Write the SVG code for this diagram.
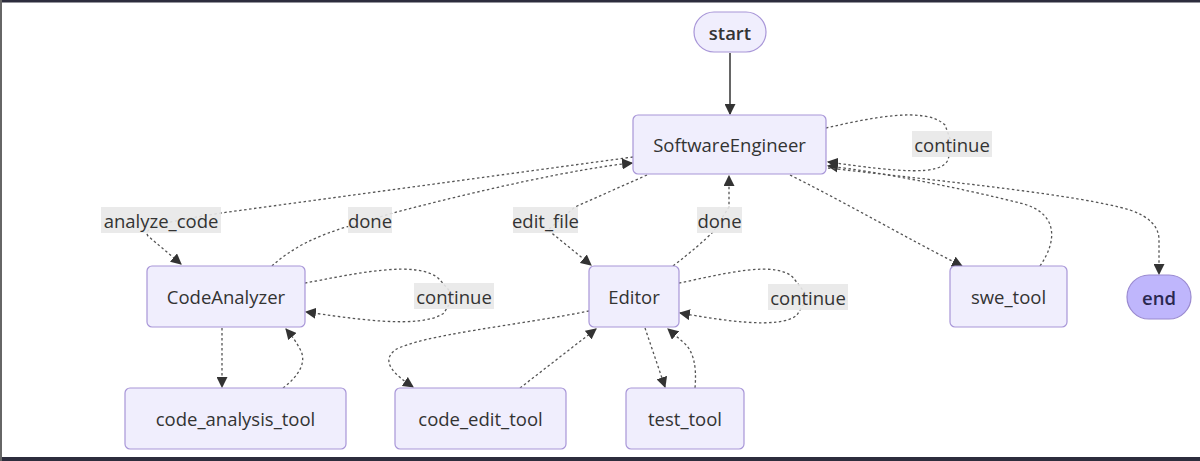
<svg xmlns="http://www.w3.org/2000/svg" width="1200" height="461" viewBox="0 0 1200 461">
<defs>
<marker id="arr" viewBox="0 0 10 10" refX="9" refY="5" markerWidth="11" markerHeight="11" markerUnits="userSpaceOnUse" orient="auto">
<path d="M0,0 L10,5 L0,10 z" fill="#333"/>
</marker>
<style>
.node rect{fill:#f0eefd;stroke:#a896d8;stroke-width:1.2}
.node text, .lbl text{font-family:"Open Sans","DejaVu Sans",sans-serif;font-size:18.5px;fill:#333;text-anchor:middle;dominant-baseline:central}
.e{fill:none;stroke:#555;stroke-width:1.3;stroke-dasharray:2.5,2.5;marker-end:url(#arr)}
.s{fill:none;stroke:#333;stroke-width:1.5;marker-end:url(#arr)}
.lbl rect{fill:#e8e8e8;opacity:0.9}
.term text{font-weight:600}
</style>
</defs>
<rect x="0" y="0" width="1200" height="461" fill="#fff"/>
<rect x="0" y="0" width="1200" height="2.5" fill="#2d2d3d"/>
<rect x="0" y="457" width="1200" height="4" fill="#2d2d3d"/>
<rect x="0" y="0" width="2" height="461" fill="#666"/>
<g id="edges">
<path class="s" d="M730,53 L730,114"/>
<path class="e" d="M633,157 L221,213 C180,220 140,225 148,236 L181,264"/>
<path class="e" d="M272,266 Q300,240 350,226 L393,213 C480,190 580,168 632,163"/>
<path class="e" d="M647,175 L575,207 L548,230 L591,265"/>
<path class="e" d="M673,266 Q700,245 713,232 L729,207 L729,176"/>
<path class="e" d="M790,175 C850,205 910,240 962,266"/>
<path class="e" d="M1040,266 C1058,240 1058,212 1020,203 C960,188 880,172 828,166"/>
<path class="e" d="M828,168 C950,182 1080,195 1130,210 Q1159,220 1159,240 L1159,274"/>
<path class="e" d="M826,128 C870,118 925,106 945,125 L952,144 L948,160 C940,176 900,172 828,162"/>
<path class="e" d="M305,283 C350,275 420,258 440,280 L454,296 L444,313 C420,330 350,318 306,312"/>
<path class="e" d="M222,328 L222,387"/>
<path class="e" d="M283,388 C300,375 306,362 301,351 C297,343 292,336 286,329"/>
<path class="e" d="M679,283 C720,275 780,258 795,280 L808,297 L797,315 C780,330 720,320 680,313"/>
<path class="e" d="M589,311 C520,325 420,335 395,350 C380,362 395,375 413,387"/>
<path class="e" d="M520,388 L596,329"/>
<path class="e" d="M645,328 L665,387"/>
<path class="e" d="M695,388 C697,365 693,350 683,342 L668,329"/>
</g>
<g id="labels">
<g class="lbl"><rect x="912" y="131" width="80" height="26"/><text x="952" y="144">continue</text></g>
<g class="lbl"><rect x="101" y="207" width="120" height="26"/><text x="161" y="220">analyze_code</text></g>
<g class="lbl"><rect x="348" y="207" width="44" height="26"/><text x="370" y="220">done</text></g>
<g class="lbl"><rect x="513" y="207" width="65" height="26"/><text x="545.5" y="220">edit_file</text></g>
<g class="lbl"><rect x="697" y="207" width="45" height="26"/><text x="719.5" y="220">done</text></g>
<g class="lbl"><rect x="414" y="283" width="80" height="26"/><text x="454" y="296">continue</text></g>
<g class="lbl"><rect x="768" y="284" width="80" height="26"/><text x="808" y="297">continue</text></g>
</g>
<g id="start" class="node term"><rect x="694" y="12" width="72" height="40" rx="20"/><text x="730" y="32">start</text></g>
<g id="SoftwareEngineer" class="node"><rect x="633" y="115" width="193" height="59" rx="5"/><text x="729.5" y="144.5">SoftwareEngineer</text></g>
<g id="CodeAnalyzer" class="node"><rect x="147" y="266" width="158" height="61" rx="5"/><text x="226" y="296.5">CodeAnalyzer</text></g>
<g id="Editor" class="node"><rect x="589" y="266" width="90" height="61" rx="5"/><text x="634" y="296.5">Editor</text></g>
<g id="swe_tool" class="node"><rect x="950" y="266" width="117" height="61" rx="5"/><text x="1008.5" y="296.5">swe_tool</text></g>
<g id="end" class="node term"><rect x="1127" y="275" width="64" height="44" rx="22" style="fill:#bfb6fc;stroke:#9a8ad0"/><text x="1159" y="297" style="fill:#2a2850">end</text></g>
<g id="code_analysis_tool" class="node"><rect x="125" y="388" width="221" height="61" rx="5"/><text x="235.5" y="418.5">code_analysis_tool</text></g>
<g id="code_edit_tool" class="node"><rect x="395" y="388" width="171" height="61" rx="5"/><text x="480.5" y="418.5">code_edit_tool</text></g>
<g id="test_tool" class="node"><rect x="626" y="388" width="118" height="61" rx="5"/><text x="685" y="418.5">test_tool</text></g>
</svg>
